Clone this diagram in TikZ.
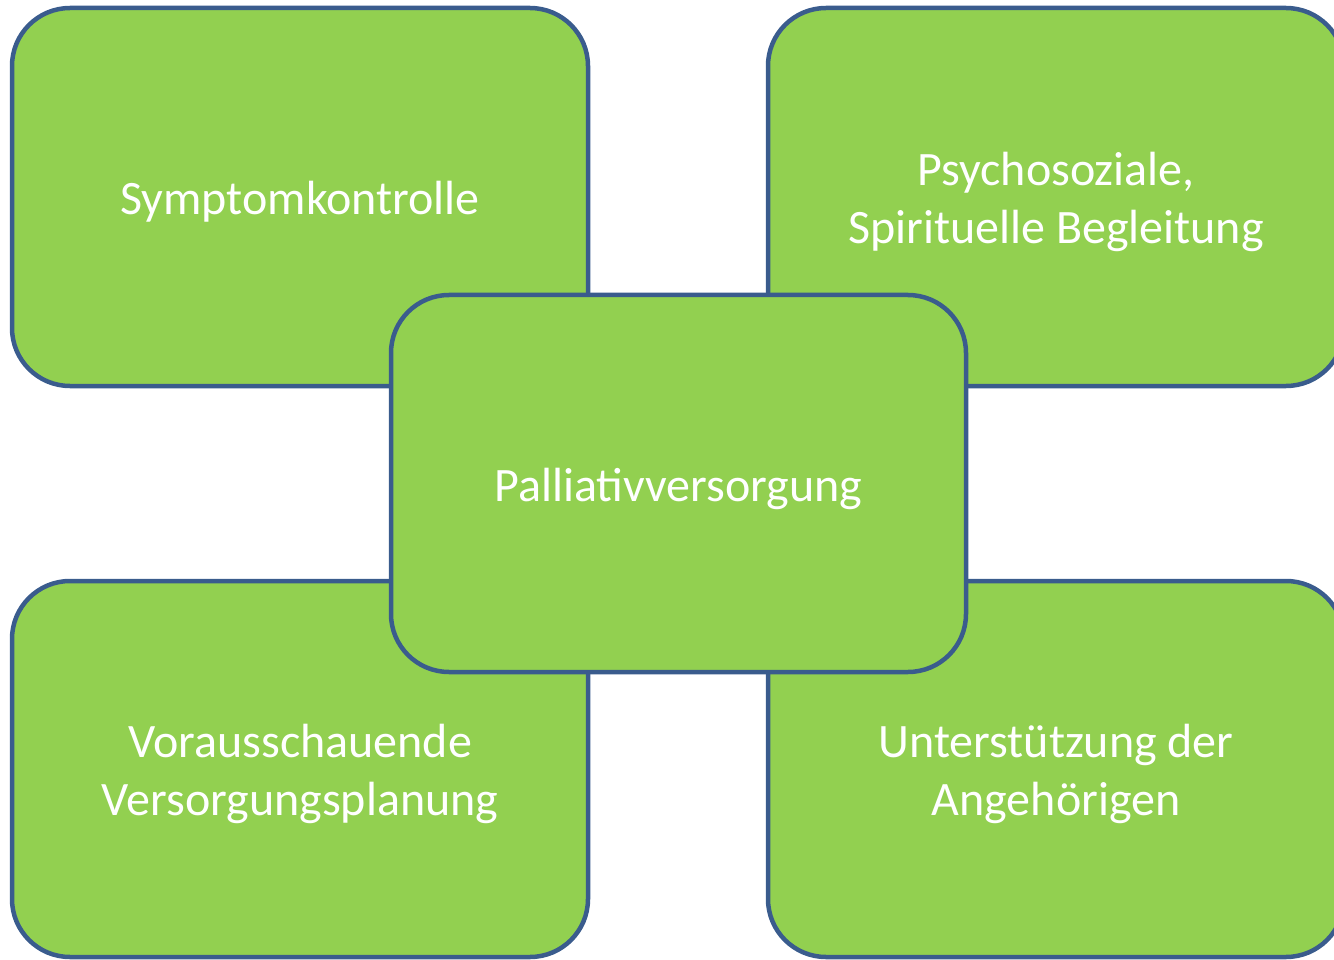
\documentclass[tikz,border=0pt]{standalone}
\usepackage{fontspec}
\setmainfont{Carlito}
\definecolor{boxfill}{HTML}{92D050}
\definecolor{boxline}{HTML}{3A5C8D}
\begin{document}
\begin{tikzpicture}[x=1pt,y=-1pt,
  boxnode/.style={draw=boxline, fill=boxfill, line width=4.5pt, rounded corners=58pt,
    minimum width=576pt, minimum height=378pt, inner sep=0pt},
  lbl/.style={text=white, align=center, inner sep=0pt, yshift=-5pt,
    font=\fontsize{48pt}{58pt}\selectfont}]
\useasboundingbox (0,0) rectangle (1334,960);
\clip (0,0) rectangle (1334,960);
\node[boxnode, label={[lbl]center:Symptomkontrolle}] (tl) at (300,197) {};
\node[boxnode, label={[lbl]center:{Psychosoziale,\\Spirituelle Begleitung}}] (tr) at (1056,197) {};
\node[boxnode, minimum height=376pt, label={[lbl]center:{Vorausschauende\\Versorgungsplanung}}] (bl) at (300,769) {};
\node[boxnode, minimum height=376pt, label={[lbl]center:{Unterstützung der\\Angehörigen}}] (br) at (1056,769) {};
\node[boxnode, minimum width=575pt, minimum height=377pt, label={[lbl]center:Palliativversorgung}] (c) at (678.5,483.5) {};
\end{tikzpicture}
\end{document}
